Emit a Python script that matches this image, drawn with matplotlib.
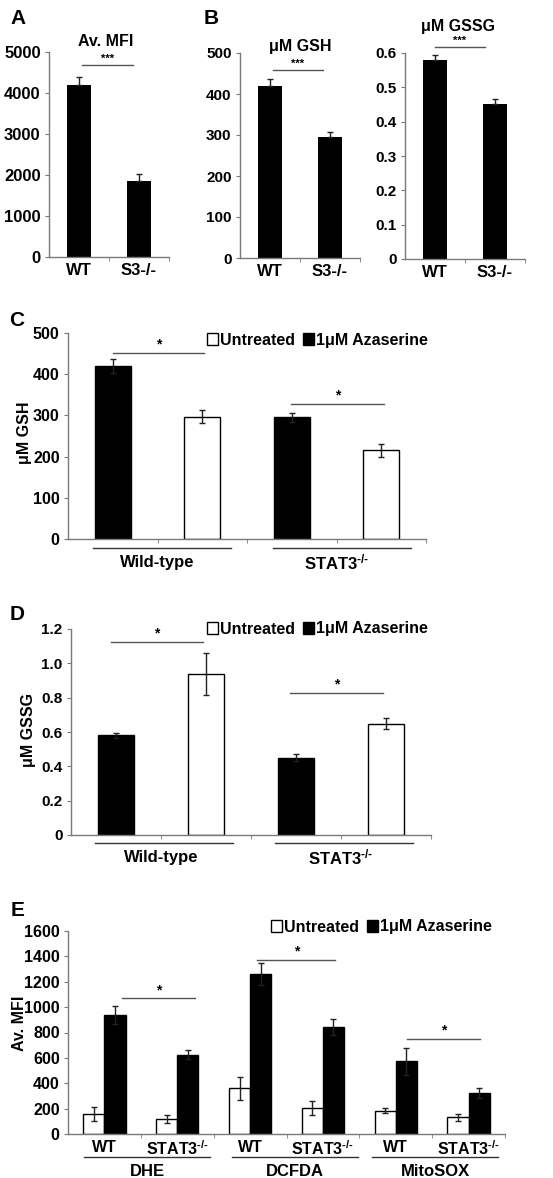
import matplotlib
matplotlib.use("Agg")
import matplotlib.pyplot as plt
from matplotlib.patches import Patch
import numpy as np

plt.rcParams['font.family'] = ['Liberation Sans', 'DejaVu Sans']
plt.rcParams['font.weight'] = 'bold'
plt.rcParams['mathtext.fontset'] = 'custom'
plt.rcParams['mathtext.rm'] = 'Liberation Sans:bold'
plt.rcParams['mathtext.it'] = 'Liberation Sans:bold'
plt.rcParams['mathtext.bf'] = 'Liberation Sans:bold'

# ---------------- data ----------------
a_cats = ['WT', 'S3-/-']
a_mfi = [4200, 1850]
a_mfi_err = [200, 170]
a_yticks = [0, 1000, 2000, 3000, 4000, 5000]

b_cats = ['WT', 'S3-/-']
b_gsh = [420, 296]
b_gsh_err = [16, 11]
b_gsh_yticks = [0, 100, 200, 300, 400, 500]
b_gssg = [0.58, 0.45]
b_gssg_err = [0.015, 0.017]
b_gssg_yticks = [0, 0.1, 0.2, 0.3, 0.4, 0.5, 0.6]
b_gssg_yticklabels = ['0', '0.1', '0.2', '0.3', '0.4', '0.5', '0.6']

STAT3 = r'STAT3$^{\text{-/-}}$'
cd_groups = ['Wild-type', STAT3]
series_names = ['Untreated', '1\u03bcM Azaserine']
c_azaserine = [420, 295]
c_azaserine_err = [16, 12]
c_untreated = [297, 215]
c_untreated_err = [16, 15]
c_yticks = [0, 100, 200, 300, 400, 500]

d_azaserine = [0.582, 0.451]
d_azaserine_err = [0.015, 0.018]
d_untreated = [0.937, 0.649]
d_untreated_err = [0.123, 0.03]
d_yticks = [0, 0.2, 0.4, 0.6, 0.8, 1.0, 1.2]
d_yticklabels = ['0', '0.2', '0.4', '0.6', '0.8', '1.0', '1.2']

e_assays = ['DHE', 'DCFDA', 'MitoSOX']
e_cats = ['WT', STAT3, 'WT', STAT3, 'WT', STAT3]
e_untreated = [157, 118, 359, 204, 183, 131]
e_untreated_err = [52, 28, 90, 58, 20, 27]
e_azaserine = [938, 626, 1260, 846, 574, 325]
e_azaserine_err = [73, 37, 84, 63, 107, 39]
e_yticks = [0, 200, 400, 600, 800, 1000, 1200, 1400, 1600]

# ---------------- layout helpers ----------------
W, H = 553, 1178
fig = plt.figure(figsize=(W / 100, H / 100), dpi=100)
AX_COL = '#7a7a7a'
SIG_COL = '#555555'


def add_ax(left, top, right, bottom):
    return fig.add_axes([left / W, 1 - bottom / H, (right - left) / W, (bottom - top) / H])


def ftext(x, y, s, **kw):
    fig.text(x / W, 1 - y / H, s, **kw)


def style(ax, ncat, yticks, yticklabels, xticks, xticklabels, fs_y, fs_x):
    for s in ['top', 'right']:
        ax.spines[s].set_visible(False)
    for s in ['left', 'bottom']:
        ax.spines[s].set_color(AX_COL)
        ax.spines[s].set_linewidth(1.0)
    ax.set_xlim(-0.5, ncat - 0.5)
    ax.set_yticks(yticks)
    ax.set_yticklabels(yticklabels, fontsize=fs_y, fontweight='bold')
    ax.set_xticks(xticks)
    ax.set_xticklabels(xticklabels, fontsize=fs_x, fontweight='bold')
    ax.tick_params(axis='y', direction='out', length=3, color=AX_COL, pad=3)
    ax.tick_params(axis='x', which='major', length=0, pad=4)
    ax.set_xticks(np.arange(ncat) + 0.5, minor=True)
    ax.tick_params(axis='x', which='minor', direction='out', length=3, color=AX_COL)


def sig(ax, x0, x1, y, star, fs=10, dy=0):
    ax.plot([x0, x1], [y, y], color=SIG_COL, lw=1.0, clip_on=False)
    ax.annotate(star, ((x0 + x1) / 2, y), xytext=(0, 1 + dy), textcoords='offset points',
                ha='center', va='bottom', fontsize=fs, fontweight='bold', annotation_clip=False)


def underline(ax, x0, x1, yfrac):
    ax.plot([x0, x1], [yfrac, yfrac], color='#333333', lw=1.0, clip_on=False,
            transform=ax.get_xaxis_transform())


def legend(ax, x_px, y_px):
    handles = [Patch(facecolor='white', edgecolor='black', linewidth=1.0),
               Patch(facecolor='black', edgecolor='black')]
    ax.legend(handles, series_names, loc='center left',
              bbox_to_anchor=(x_px / W, 1 - y_px / H), bbox_transform=fig.transFigure,
              ncol=2, frameon=False, handlelength=0.7, handleheight=0.75,
              handletextpad=0.1, columnspacing=0.5, borderpad=0, borderaxespad=0,
              prop={'weight': 'bold', 'size': 11.5})


ekw = dict(ecolor='#222222', elinewidth=1.0, capsize=2.5, capthick=1.0)

# ---------------- Panel A ----------------
axA = add_ax(49, 52, 169, 257)
xa = np.arange(len(a_cats))
axA.bar(xa, a_mfi, width=0.39, color='black', yerr=[[0, 0], a_mfi_err], error_kw=ekw)
axA.set_ylim(0, 5000)
style(axA, 2, a_yticks, [str(v) for v in a_yticks], xa, a_cats, 12, 12)
sig(axA, 0.05, 0.9, 4683, '***', fs=8)
ftext(106, 42, 'Av. MFI', ha='center', va='center', fontsize=11.5, fontweight='bold')
ftext(18, 18, 'A', ha='center', va='center', fontsize=15, fontweight='bold')

# ---------------- Panel B GSH ----------------
axB1 = add_ax(240, 53, 360, 258)
axB1.bar(xa, b_gsh, width=0.4, color='black', yerr=[[0, 0], b_gsh_err], error_kw=ekw)
axB1.set_ylim(0, 500)
style(axB1, 2, b_gsh_yticks, [str(v) for v in b_gsh_yticks], xa, b_cats, 11, 12)
sig(axB1, 0.05, 0.88, 458, '***', fs=8)
ftext(300, 46, '\u03bcM GSH', ha='center', va='center', fontsize=11.5, fontweight='bold')
ftext(211, 18, 'B', ha='center', va='center', fontsize=15, fontweight='bold')

# ---------------- Panel B GSSG ----------------
axB2 = add_ax(405, 53, 525, 259)
axB2.bar(xa, b_gssg, width=0.4, color='black', yerr=[[0, 0], b_gssg_err], error_kw=ekw)
axB2.set_ylim(0, 0.6)
style(axB2, 2, b_gssg_yticks, b_gssg_yticklabels, xa, b_cats, 11, 12)
sig(axB2, 0.0, 0.83, 0.617, '***', fs=8)
ftext(458, 27, '\u03bcM GSSG', ha='center', va='center', fontsize=11.5, fontweight='bold')

# ---------------- Panel C ----------------
axC = add_ax(68, 333, 426, 539)
pos_aza = np.array([0, 2])
pos_unt = np.array([1, 3])
axC.bar(pos_aza, c_azaserine, width=0.4, color='black', edgecolor='black',
        yerr=c_azaserine_err, error_kw=ekw)
axC.bar(pos_unt, c_untreated, width=0.4, color='white', edgecolor='black', linewidth=1.0,
        yerr=c_untreated_err, error_kw=ekw)
axC.set_ylim(0, 500)
style(axC, 4, c_yticks, [str(v) for v in c_yticks], [], [], 11.5, 12)
sig(axC, 0.0, 1.02, 451, '*', fs=10)
sig(axC, 1.99, 3.03, 328, '*', fs=10)
underline(axC, -0.22, 1.32, -0.044)
underline(axC, 1.79, 3.33, -0.044)
for gx, g in zip([0.5, 2.5], cd_groups):
    axC.text(gx, -0.115, g, transform=axC.get_xaxis_transform(), ha='center', va='center',
             fontsize=12, fontweight='bold')
legend(axC, 207, 340)
ftext(24, 433, '\u03bcM GSH', rotation=90, ha='center', va='center', fontsize=11.5,
      fontweight='bold')
ftext(17, 320, 'C', ha='center', va='center', fontsize=15, fontweight='bold')

# ---------------- Panel D ----------------
axD = add_ax(71, 629, 431, 835)
axD.bar(pos_aza, d_azaserine, width=0.41, color='black', edgecolor='black',
        yerr=d_azaserine_err, error_kw=ekw)
axD.bar(pos_unt, d_untreated, width=0.41, color='white', edgecolor='black', linewidth=1.0,
        yerr=d_untreated_err, error_kw=ekw)
axD.set_ylim(0, 1.2)
style(axD, 4, d_yticks, d_yticklabels, [], [], 11, 12)
sig(axD, -0.06, 0.97, 1.124, '*', fs=10)
sig(axD, 1.93, 2.97, 0.828, '*', fs=10)
underline(axD, -0.23, 1.3, -0.04)
underline(axD, 1.77, 3.3, -0.04)
for gx, g in zip([0.5, 2.5], cd_groups):
    axD.text(gx, -0.11, g, transform=axD.get_xaxis_transform(), ha='center', va='center',
             fontsize=12, fontweight='bold')
legend(axD, 207, 629)
ftext(28, 730, '\u03bcM GSSG', rotation=90, ha='center', va='center', fontsize=11.5,
      fontweight='bold')
ftext(17, 614, 'D', ha='center', va='center', fontsize=15, fontweight='bold')

# ---------------- Panel E ----------------
axE = add_ax(68, 931, 505, 1134)
xe = np.arange(len(e_cats))
bw = 0.29
axE.bar(xe - bw / 2, e_untreated, width=bw, color='white', edgecolor='black', linewidth=1.0,
        yerr=e_untreated_err, error_kw=ekw)
axE.bar(xe + bw / 2, e_azaserine, width=bw, color='black', edgecolor='black',
        yerr=e_azaserine_err, error_kw=ekw)
axE.set_ylim(0, 1600)
style(axE, 6, e_yticks, [str(v) for v in e_yticks], xe, e_cats, 11.5, 11.5)
sig(axE, 0.24, 1.24, 1069, '*', fs=10)
sig(axE, 2.1, 3.17, 1370, '*', fs=10)
sig(axE, 4.16, 5.16, 747, '*', fs=10)
for (x0, x1), name in zip([(-0.28, 1.45), (1.75, 3.48), (3.68, 5.41)], e_assays):
    underline(axE, x0, x1, -0.115)
    axE.text((x0 + x1) / 2, -0.185, name, transform=axE.get_xaxis_transform(),
             ha='center', va='center', fontsize=12, fontweight='bold')
legend(axE, 271, 927)
ftext(20, 1023, 'Av. MFI', rotation=90, ha='center', va='center', fontsize=11.5,
      fontweight='bold')
ftext(18, 910, 'E', ha='center', va='center', fontsize=15, fontweight='bold')

fig.savefig('out.png', dpi=100)
